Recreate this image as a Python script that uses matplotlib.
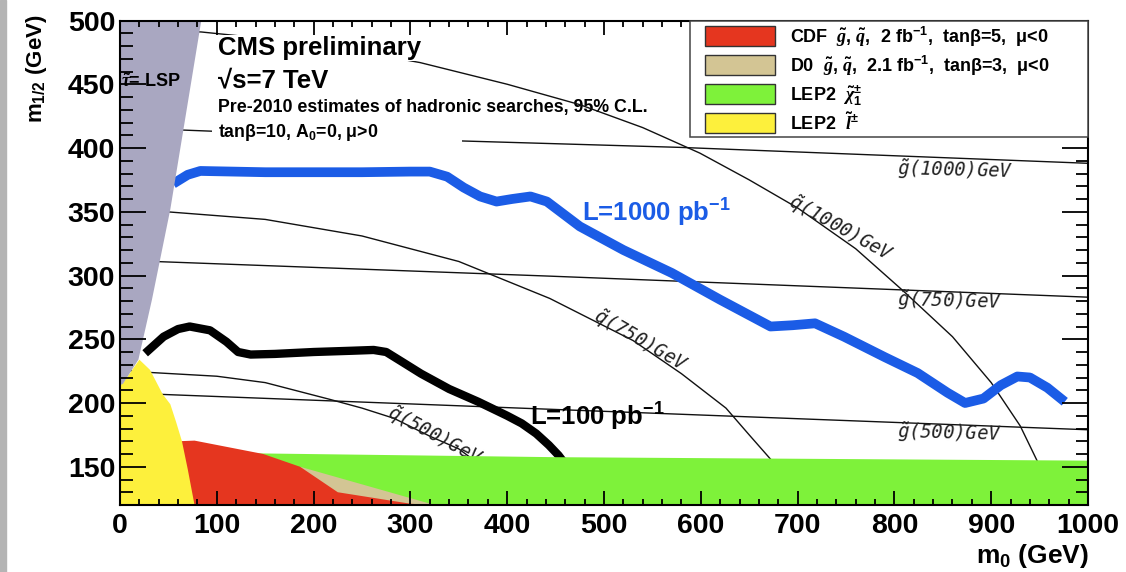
import numpy as np
import matplotlib.pyplot as plt
from matplotlib.patches import Rectangle

plt.rcParams['font.family'] = ['Liberation Sans', 'DejaVu Sans']
plt.rcParams['font.weight'] = 'bold'
plt.rcParams['mathtext.fontset'] = 'custom'
plt.rcParams['mathtext.rm'] = 'Liberation Sans:bold'
plt.rcParams['mathtext.bf'] = 'Liberation Sans:bold'
plt.rcParams['mathtext.it'] = 'Liberation Serif:italic'
plt.rcParams['mathtext.default'] = 'regular'

# reach contours (m0, m1/2) in GeV
m0_1000pb = [55, 70, 83, 150, 250, 300, 320, 338, 355, 372, 389, 405, 424, 441, 475, 520, 570,
             620, 672, 695, 718, 748, 790, 824, 855, 873, 892, 910, 927, 940, 958, 976]
m12_1000pb = [372, 379, 382, 381, 381, 381.5, 381.5, 377.5, 369, 362, 358, 360, 362, 358, 338.5,
              320, 302, 281, 260, 261, 262.5, 252, 236, 223.5, 208, 200, 203.5, 214, 220.8, 220, 212, 201]
m0_100pb = [26, 45, 60, 72, 93, 110, 122, 135, 160, 200, 240, 262, 275, 292, 311, 340, 370, 400,
            415, 430, 443, 453, 462, 470]
m12_100pb = [239, 252, 258, 260, 257, 248, 240, 238, 238.5, 240, 241, 241.6, 240, 232, 223, 211,
             201, 190, 184, 176, 167, 159, 150, 140]

# iso-mass lines
gl1000_m0, gl1000_m12 = [0, 354, 578, 1000], [416, 405.5, 400.5, 388]
gl750_m0, gl750_m12 = [0, 444, 1000], [312, 299.5, 283]
gl500_m0, gl500_m12 = [0, 430, 1000], [208, 195.5, 179]
sq1000_m0 = [0, 84, 200, 310, 400, 475, 540, 599, 650, 700, 760, 809, 860, 900, 930, 960]
sq1000_m12 = [494, 491, 482, 467, 450, 434, 416, 396, 375, 353, 321, 288, 252, 216, 182, 135]
sq750_m0 = [0, 48, 150, 250, 350, 444, 530, 580, 626, 650, 672, 690]
sq750_m12 = [352, 350, 344, 331, 311, 282, 249, 223, 196, 175, 156, 135]
sq500_m0 = [0, 30, 100, 150, 216, 250, 283, 320, 350, 380, 400]
sq500_m12 = [226, 224, 221, 216, 203, 196, 188, 174, 164, 147, 135]

# excluded regions
lsp_m0 = [0, 84, 52, 33, 19, 3, 0]
lsp_m12 = [500, 500, 352, 281, 234, 215, 214]
slep_m0 = [0, 0, 3, 20, 31, 44, 52, 58, 64, 70, 77]
slep_m12 = [120, 214, 215.5, 234, 226, 207, 199, 185, 170, 148, 120]
cdf_m0 = [60, 60, 77, 148, 186, 225, 300, 320]
cdf_m12 = [120, 170, 170.5, 160, 150, 130, 121, 120]
d0_m0 = [186, 186, 325]
d0_m12 = [120, 150, 120]
chargino_m0 = [140, 140, 450, 1000, 1000]
chargino_m12 = [120, 160.5, 157.5, 154.8, 120]

legend_labels = [r"CDF  $\mathit{\tilde{g}}$, $\mathit{\tilde{q}}$,  2 fb$^{-1}$,  tanβ=5,  μ<0",
                 r"D0  $\mathit{\tilde{g}}$, $\mathit{\tilde{q}}$,  2.1 fb$^{-1}$,  tanβ=3,  μ<0",
                 r"LEP2  $\mathit{\tilde{\chi}}_1^{\pm}$",
                 r"LEP2  $\mathit{\tilde{l}}^{\pm}$"]
legend_colors = ['#e5361f', '#d3c594', '#7ef23a', '#fdf03c']

c_lsp = '#a9a7c1'
c_blue = '#1b5ce6'

fig = plt.figure(figsize=(11.26, 5.72), dpi=100)
fig.patches.append(Rectangle((0, 0), 6 / 1126, 1, transform=fig.transFigure,
                             color='#b4b4b4', zorder=0))
ax = fig.add_axes([0.10657, 0.11713, 0.85968, 0.84703])

thin = dict(color='#111111', lw=1.0, zorder=2)
for xs, ys in [(gl1000_m0, gl1000_m12), (gl750_m0, gl750_m12), (gl500_m0, gl500_m12),
               (sq1000_m0, sq1000_m12), (sq750_m0, sq750_m12), (sq500_m0, sq500_m12)]:
    ax.plot(xs, ys, **thin)

lab = dict(family='DejaVu Sans Mono', style='italic', fontweight='normal', fontsize=13.5,
           color='#222222', zorder=2.5, rotation_mode='anchor')
ax.text(803, 379, r"$\tilde{g}$(1000)GeV", rotation=-1.5, ha='left', va='baseline', **lab)
ax.text(803, 275.8, r"$\tilde{g}$(750)GeV", rotation=-1.5, ha='left', va='baseline', **lab)
ax.text(803, 172.9, r"$\tilde{g}$(500)GeV", rotation=-1.5, ha='left', va='baseline', **lab)
ax.text(744, 337, r"$\tilde{q}$(1000)GeV", rotation=-29, ha='center', va='center', **lab)
ax.text(538, 249, r"$\tilde{q}$(750)GeV", rotation=-30, ha='center', va='center', **lab)
ax.text(325, 174, r"$\tilde{q}$(500)GeV", rotation=-28, ha='center', va='center', **lab)

ax.plot(m0_100pb, m12_100pb, color='black', lw=6, solid_capstyle='butt', zorder=3)
ax.plot(m0_1000pb, m12_1000pb, color=c_blue, lw=7, solid_capstyle='butt', zorder=3)

ax.fill(chargino_m0, chargino_m12, color=legend_colors[2], lw=0, zorder=4)
ax.fill(d0_m0, d0_m12, color=legend_colors[1], lw=0, zorder=4.1)
ax.fill(cdf_m0, cdf_m12, color=legend_colors[0], lw=0, zorder=4.2)
ax.fill(slep_m0, slep_m12, color=legend_colors[3], lw=0, zorder=4.3)
ax.fill(lsp_m0, lsp_m12, color=c_lsp, lw=0, zorder=4.4)

ax.text(477, 342.4, r"L=1000 pb$^{-1}$", color=c_blue, fontsize=18.5, zorder=6)
ax.text(424, 182.3, r"L=100 pb$^{-1}$", color='black', fontsize=18.5, zorder=6)

ax.text(1.5, 448, r"$\mathit{\tilde{\tau}}$= LSP", fontsize=13, zorder=6)
ax.text(101, 473, "CMS preliminary", fontsize=18.5, zorder=6,
        bbox=dict(facecolor='white', edgecolor='none', pad=1))
ax.text(101, 447.7, "√s=7 TeV", fontsize=18.5, zorder=6)
ax.text(101, 428.5, "Pre-2010 estimates of hadronic searches, 95% C.L.", fontsize=12.8, zorder=1.5)
ax.add_patch(Rectangle((95, 403), 258, 16, facecolor='white', edgecolor='none', zorder=5))
ax.text(101, 409, r"tanβ=10, A$_0$=0, μ>0", fontsize=12.8, zorder=6)

# legend box, drawn over the frame ticks
ax.add_patch(Rectangle((0.589, 0.759), 0.411, 0.241, transform=ax.transAxes,
                       facecolor='white', edgecolor='#444444', lw=1.1, zorder=11, clip_on=False))
pitch = 29.1 / 484.5
for i, (lbl, col) in enumerate(zip(legend_labels, legend_colors)):
    yc = (505 - 36) / 484.5 - i * pitch
    ax.add_patch(Rectangle((0.6043, yc - 0.0206), 0.0723, 0.0413, transform=ax.transAxes,
                           facecolor=col, edgecolor='#333333', lw=1.0, zorder=12))
    ax.text(0.692, yc - 6.7 / 484.5, lbl, transform=ax.transAxes, fontsize=13,
            va='baseline', ha='left', zorder=12)

ax.set_xlim(0, 1000)
ax.set_ylim(120, 500)
ax.set_xticks(np.arange(0, 1001, 100))
ax.set_xticks(np.arange(0, 1001, 20), minor=True)
ax.set_yticks(np.arange(150, 501, 50))
ax.set_yticks(np.arange(120, 501, 10), minor=True)
ax.tick_params(axis='both', which='both', direction='in', top=True, right=True,
               width=1.3, labelsize=20.5)
ax.tick_params(axis='x', which='major', length=10, pad=6)
ax.tick_params(axis='x', which='minor', length=4.5)
ax.tick_params(axis='y', which='major', length=18.5, pad=3.5)
ax.tick_params(axis='y', which='minor', length=9)
ax.xaxis.set_zorder(9)
ax.yaxis.set_zorder(9)
for lbl in ax.get_xticklabels() + ax.get_yticklabels():
    lbl.set_fontweight('bold')
for sp in ax.spines.values():
    sp.set_linewidth(1.5)
    sp.set_zorder(10)

fig.text(0.032, 0.974, r"m$_{1/2}$ (GeV)", rotation=90, ha='center', va='top', fontsize=16)
fig.text(0.9668, 0.0157, r"m$_0$ (GeV)", ha='right', va='baseline', fontsize=19)

fig.savefig('out.png', dpi=100)
